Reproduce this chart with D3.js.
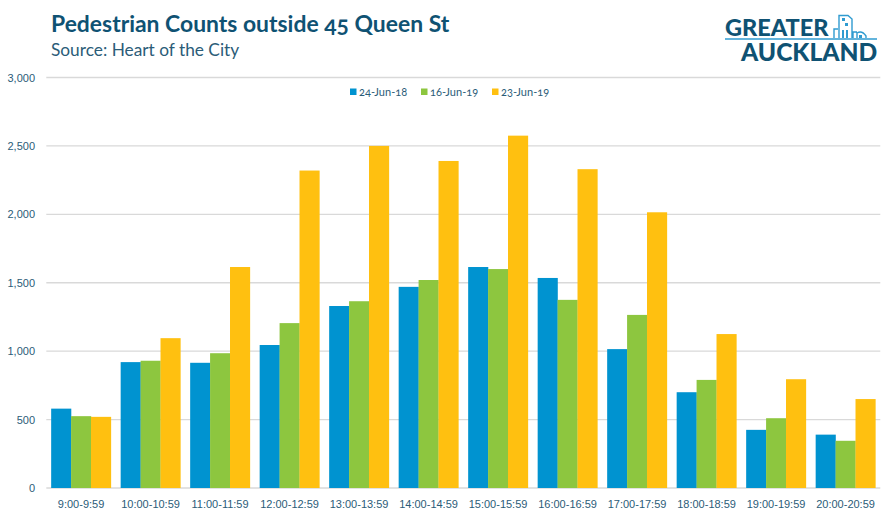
<!DOCTYPE html>
<html>
<head>
<meta charset="utf-8">
<script src="https://cdn.jsdelivr.net/npm/d3@7"></script>
<style>
  html, body { margin: 0; padding: 0; background: #fff; }
  svg { display: block; font-family: Lato, "Open Sans", sans-serif; font-variant-numeric: oldstyle-nums; }
  .tick text { fill: #2b5c78; font-size: 11px; }
  .tick line, .domain { display: none; }
  .grid line { stroke: #d9d9d9; stroke-width: 1.3; }
</style>
</head>
<body>
<svg id="chart" width="895" height="519"></svg>
<script>
// chart values
var hours = ["9:00-9:59", "10:00-10:59", "11:00-11:59", "12:00-12:59", "13:00-13:59", "14:00-14:59",
             "15:00-15:59", "16:00-16:59", "17:00-17:59", "18:00-18:59", "19:00-19:59", "20:00-20:59"];
var seriesNames = ["24-Jun-18", "16-Jun-19", "23-Jun-19"];
var jun18 = [580, 920, 915, 1045, 1330, 1470, 1615, 1535, 1015, 700, 425, 390];
var jun19a = [525, 930, 985, 1205, 1365, 1520, 1600, 1375, 1265, 790, 510, 345];
var jun19b = [520, 1095, 1615, 2320, 2500, 2390, 2575, 2330, 2015, 1125, 795, 650];
var colors = ["#0093d0", "#8dc63f", "#ffc010"];
var yTicks = [0, 500, 1000, 1500, 2000, 2500, 3000];

var svg = d3.select("#chart");
var dark = "#0f5273";

var x = d3.scaleBand().domain(hours).range([46.3, 880.3]).paddingInner(0.14).paddingOuter(0.07);
var y = d3.scaleLinear().domain([0, 3000]).range([488, 77.5]);
var xs = d3.scaleBand().domain(seriesNames).range([0, x.bandwidth()]);

// gridlines
svg.append("g").attr("class", "grid")
  .selectAll("line").data(yTicks).join("line")
  .attr("x1", 46.3).attr("x2", 880.3)
  .attr("y1", function (d) { return y(d); })
  .attr("y2", function (d) { return y(d); });

// bars
[jun18, jun19a, jun19b].forEach(function (vals, i) {
  svg.append("g").selectAll("rect").data(vals).join("rect")
    .attr("x", function (d, j) { return x(hours[j]) + xs(seriesNames[i]); })
    .attr("width", xs.bandwidth() + 0.2)
    .attr("y", function (d) { return y(d); })
    .attr("height", function (d) { return y(0) - y(d); })
    .attr("fill", colors[i]);
});

// axes
svg.append("g").attr("transform", "translate(35,0)")
  .call(d3.axisLeft(y).tickValues(yTicks).tickSize(0).tickPadding(0).tickFormat(d3.format(",")));
svg.append("g").attr("transform", "translate(0,488)")
  .call(d3.axisBottom(x).tickSize(0).tickPadding(12));

// legend
var legendX = [350, 421, 492];
seriesNames.forEach(function (name, i) {
  svg.append("rect").attr("x", legendX[i]).attr("y", 88.5).attr("width", 6.5).attr("height", 6.5).attr("fill", colors[i]);
  svg.append("text").attr("x", legendX[i] + 9).attr("y", 96)
    .attr("fill", "#2b5c78").style("font-size", "11px").text(name);
});

// titles
svg.append("text").attr("x", 51).attr("y", 32).attr("fill", dark)
  .style("font-size", "22.9px").style("font-weight", 700).text("Pedestrian Counts outside 45 Queen St");
svg.append("text").attr("x", 51).attr("y", 56).attr("fill", "#2b5c78")
  .style("font-size", "17.3px").text("Source: Heart of the City");

// logo
var logo = svg.append("g");
logo.append("text").attr("x", 725).attr("y", 36).attr("fill", dark)
  .style("font-size", "23.5px").style("font-weight", 900).text("GREATER");
logo.append("text").attr("x", 741).attr("y", 60.5).attr("fill", dark)
  .style("font-size", "24.6px").style("font-weight", 900).text("AUCKLAND");
logo.append("line").attr("x1", 725).attr("x2", 877).attr("y1", 39).attr("y2", 39)
  .attr("stroke", "#2f9bd0").attr("stroke-width", 1.3);
logo.append("path")
  .attr("d", "M834 38V29H838M839 38V15.5H848L852 19V38M853 38V32H857M857 38V33Q862 30 866 36V38")
  .attr("fill", "none").attr("stroke", "#2f9bd0").attr("stroke-width", 1.4);
logo.append("path")
  .attr("d", "M842 18h3v3h-3zM845 23h3v3h-3zM842 30h2v8h-2zM846 30h2v8h-2zM859 35h3v3h-3z")
  .attr("fill", "#2f9bd0");
</script>
</body>
</html>
